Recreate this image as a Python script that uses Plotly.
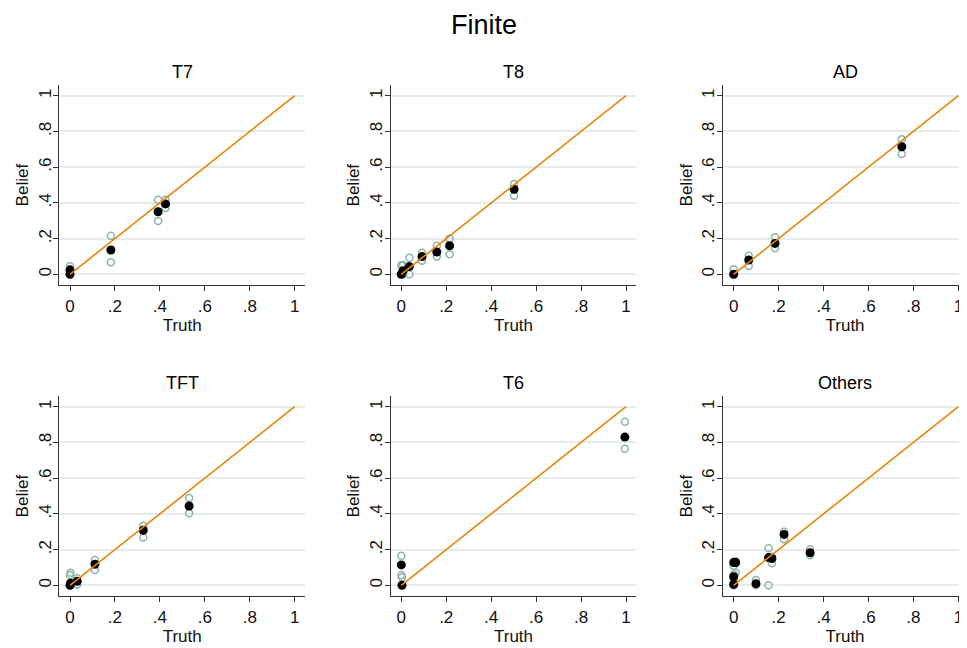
import plotly.graph_objects as go

# ---- data ----
panel_titles = ["T7", "T8", "AD", "TFT", "T6", "Others"]

t7_truth = [0.0, 0.0, 0.182, 0.392, 0.425]
t7_belief = [0.0, 0.025, 0.136, 0.350, 0.394]
t7_upper = [0.02, 0.045, 0.216, 0.418, 0.418]
t7_lower = [0.0, 0.01, 0.067, 0.298, 0.371]

t8_truth = [0.0, 0.008, 0.036, 0.092, 0.158, 0.215, 0.502]
t8_belief = [0.0, 0.02, 0.043, 0.099, 0.125, 0.16, 0.476]
t8_upper = [0.05, 0.052, 0.093, 0.121, 0.16, 0.2, 0.506]
t8_lower = [0.0, 0.0, 0.0, 0.076, 0.099, 0.112, 0.44]

ad_truth = [0.0, 0.067, 0.184, 0.748]
ad_belief = [0.0, 0.08, 0.173, 0.714]
ad_upper = [0.028, 0.104, 0.207, 0.756]
ad_lower = [0.0, 0.047, 0.146, 0.674]

tft_truth = [0.0, 0.002, 0.032, 0.111, 0.326, 0.53]
tft_belief = [0.0, 0.012, 0.022, 0.118, 0.308, 0.444]
tft_upper = [0.058, 0.07, 0.04, 0.142, 0.334, 0.489]
tft_lower = [0.0, 0.0, 0.005, 0.086, 0.267, 0.403]

t6_truth = [0.0, 0.003, 0.995]
t6_belief = [0.114, 0.0, 0.83]
t6_upper = [0.166, 0.045, 0.916]
t6_lower = [0.058, 0.0, 0.765]

oth_truth = [0.0, 0.0, 0.0, 0.009, 0.099, 0.155, 0.17, 0.224, 0.34]
oth_belief = [0.005, 0.048, 0.127, 0.127, 0.009, 0.155, 0.15, 0.285, 0.182]
oth_upper = [0.01, 0.06, 0.132, 0.135, 0.03, 0.207, 0.16, 0.30, 0.2]
oth_lower = [0.0, 0.03, 0.11, 0.07, 0.0, 0.0, 0.124, 0.258, 0.168]

ref_line = [0.0, 1.0]

tick_vals = [0, 0.2, 0.4, 0.6, 0.8, 1]
tick_text = ["0", ".2", ".4", ".6", ".8", "1"]

panels = [
    (t7_truth, t7_belief, t7_upper, t7_lower),
    (t8_truth, t8_belief, t8_upper, t8_lower),
    (ad_truth, ad_belief, ad_upper, ad_lower),
    (tft_truth, tft_belief, tft_upper, tft_lower),
    (t6_truth, t6_belief, t6_upper, t6_lower),
    (oth_truth, oth_belief, oth_upper, oth_lower),
]

# ---- layout geometry (page pixels; the page body has an 8px margin) ----
OFF = 8
PAGE_W, PAGE_H = 967, 648
W, H = PAGE_W - OFF, PAGE_H - OFF
x_zero = [70.0, 401.3, 733.7]
x_scale = 224.7
y_rows = [(274.3, 285.3, 85.0), (585.3, 596.3, 396.0)]  # zero pixel, bottom, top
y_scale = 178.6


def px(p):
    return (p - OFF) / W


def py(p):
    return 1 - (p - OFF) / H


FONT = "Liberation Sans, Arial, Helvetica, sans-serif"
HOLLOW = "#8fb3ab"
ORANGE = "#e8850c"
GRID = "#e4ecee"
AXIS = "#333333"
TXT = "#111111"

fig = go.Figure()
layout = dict(
    width=W, height=H,
    margin=dict(l=0, r=0, t=0, b=0),
    paper_bgcolor="white", plot_bgcolor="white",
    showlegend=False,
    font=dict(family=FONT, color=TXT),
)
annotations = [dict(text="Finite", x=px(484), y=1.0, xref="paper", yref="paper",
                    showarrow=False, font=dict(size=27, family=FONT, color="black"),
                    xanchor="center", yanchor="top")]

for i, (tr, be, up, lo) in enumerate(panels):
    row, col = divmod(i, 3)
    n = i + 1
    xa = "x" if n == 1 else f"x{n}"
    ya = "y" if n == 1 else f"y{n}"
    x0 = x_zero[col]
    left_px = x0 - 10.6
    right_px = min(x0 + x_scale * 1.046, PAGE_W)
    xr = [(left_px - x0) / x_scale, (right_px - x0) / x_scale]
    y0, ybot, ytop = y_rows[row]
    yr = [(y0 - ybot) / y_scale, (y0 - ytop) / y_scale]

    fig.add_trace(go.Scatter(x=tr + tr, y=up + lo, mode="markers",
                             marker=dict(symbol="circle-open", size=7, color=HOLLOW,
                                         line=dict(width=1.5, color=HOLLOW)),
                             xaxis=xa, yaxis=ya, hoverinfo="skip"))
    fig.add_trace(go.Scatter(x=tr, y=be, mode="markers",
                             marker=dict(symbol="circle", size=9, color="black"),
                             xaxis=xa, yaxis=ya))
    fig.add_trace(go.Scatter(x=ref_line, y=ref_line, mode="lines",
                             line=dict(color=ORANGE, width=1.6),
                             xaxis=xa, yaxis=ya, hoverinfo="skip"))

    xkey = "xaxis" if n == 1 else f"xaxis{n}"
    ykey = "yaxis" if n == 1 else f"yaxis{n}"
    layout[xkey] = dict(
        domain=[px(left_px), min(px(right_px), 1.0)], range=xr, anchor=ya,
        tickvals=tick_vals, ticktext=tick_text, ticks="outside", ticklen=5,
        tickcolor=AXIS, tickwidth=1, showline=True, linecolor=AXIS, linewidth=1,
        showgrid=False, zeroline=False, tickfont=dict(size=17, family=FONT, color=TXT),
        title=dict(text="Truth", font=dict(size=17, family=FONT, color=TXT), standoff=0),
        fixedrange=True,
    )
    layout[ykey] = dict(
        domain=[py(ybot), py(ytop)], range=yr, anchor=xa,
        tickvals=tick_vals, ticktext=tick_text, ticks="outside", ticklen=5,
        tickcolor=AXIS, tickwidth=1, showline=True, linecolor=AXIS, linewidth=1,
        showgrid=True, gridcolor=GRID, gridwidth=1.5, zeroline=False,
        tickangle=-90, ticklabelstandoff=-4,
        tickfont=dict(size=17, family=FONT, color=TXT),
        title=dict(text="Belief", font=dict(size=17, family=FONT, color=TXT), standoff=2),
        fixedrange=True,
    )
    cx = (left_px + right_px) / 2
    annotations.append(dict(text=panel_titles[i], x=px(cx), y=py(ytop - 13),
                            xref="paper", yref="paper", showarrow=False,
                            xanchor="center", yanchor="middle",
                            font=dict(size=18, family=FONT, color="black")))

layout["annotations"] = annotations
fig.update_layout(**layout)
fig.write_html("out.html")
